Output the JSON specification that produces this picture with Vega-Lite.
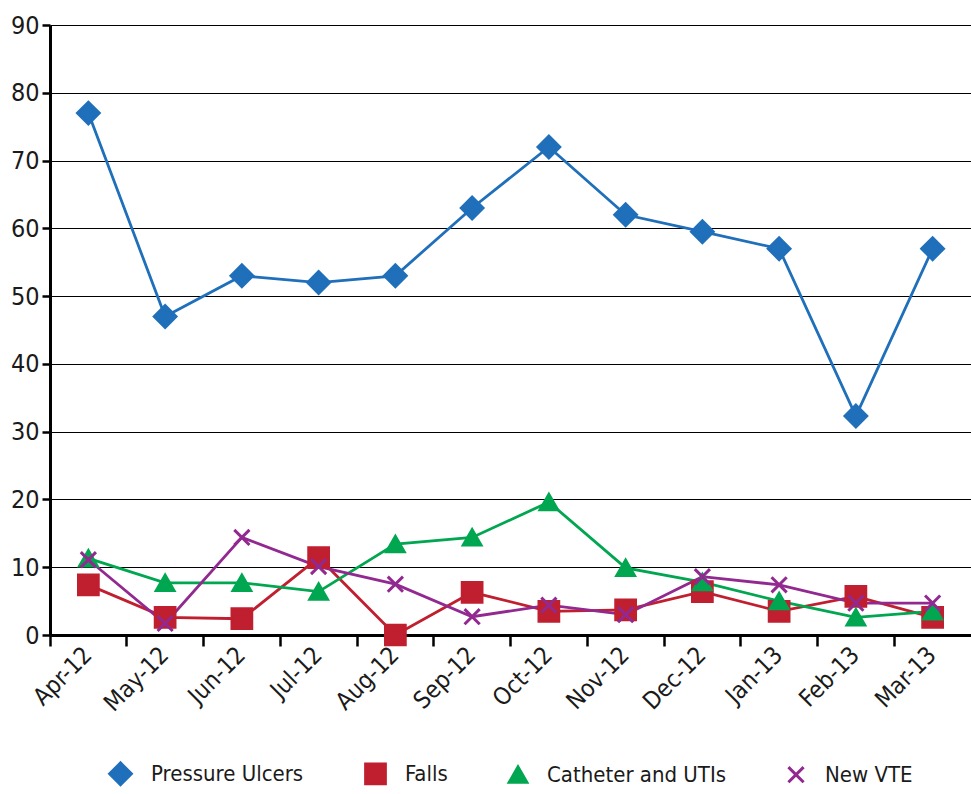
{
  "$schema": "https://vega.github.io/schema/vega-lite/v6.json",
  "width": 971,
  "height": 794,
  "autosize": {"type": "fit", "contains": "padding"},
  "padding": {"left": 10, "top": 13, "right": 0, "bottom": 3},
  "background": "white",
  "config": {
    "font": "DejaVu Sans Condensed, Roboto, sans-serif",
    "view": {"stroke": null},
    "axis": {
      "labelFont": "DejaVu Sans Condensed, Roboto, sans-serif",
      "labelColor": "#1a1a1a",
      "title": null
    },
    "legend": {
      "labelFont": "DejaVu Sans Condensed, Roboto, sans-serif",
      "labelFontSize": 22,
      "labelColor": "#1a1a1a",
      "labelLimit": 0,
      "labelOffset": 18,
      "symbolStrokeWidth": 3,
      "layout": {"bottom": {"anchor": "middle"}}
    }
  },
  "data": {
    "values": [
      {"month": "Apr-12", "series": "Pressure Ulcers", "value": 77},
      {"month": "May-12", "series": "Pressure Ulcers", "value": 47},
      {"month": "Jun-12", "series": "Pressure Ulcers", "value": 53},
      {"month": "Jul-12", "series": "Pressure Ulcers", "value": 52},
      {"month": "Aug-12", "series": "Pressure Ulcers", "value": 53},
      {"month": "Sep-12", "series": "Pressure Ulcers", "value": 63},
      {"month": "Oct-12", "series": "Pressure Ulcers", "value": 72},
      {"month": "Nov-12", "series": "Pressure Ulcers", "value": 62},
      {"month": "Dec-12", "series": "Pressure Ulcers", "value": 59.5},
      {"month": "Jan-13", "series": "Pressure Ulcers", "value": 57},
      {"month": "Feb-13", "series": "Pressure Ulcers", "value": 32.3},
      {"month": "Mar-13", "series": "Pressure Ulcers", "value": 57},

      {"month": "Apr-12", "series": "Falls", "value": 7.4},
      {"month": "May-12", "series": "Falls", "value": 2.6},
      {"month": "Jun-12", "series": "Falls", "value": 2.4},
      {"month": "Jul-12", "series": "Falls", "value": 11.4},
      {"month": "Aug-12", "series": "Falls", "value": 0},
      {"month": "Sep-12", "series": "Falls", "value": 6.3},
      {"month": "Oct-12", "series": "Falls", "value": 3.5},
      {"month": "Nov-12", "series": "Falls", "value": 3.7},
      {"month": "Dec-12", "series": "Falls", "value": 6.4},
      {"month": "Jan-13", "series": "Falls", "value": 3.5},
      {"month": "Feb-13", "series": "Falls", "value": 5.7},
      {"month": "Mar-13", "series": "Falls", "value": 2.6},

      {"month": "Apr-12", "series": "Catheter and UTIs", "value": 11.3},
      {"month": "May-12", "series": "Catheter and UTIs", "value": 7.7},
      {"month": "Jun-12", "series": "Catheter and UTIs", "value": 7.7},
      {"month": "Jul-12", "series": "Catheter and UTIs", "value": 6.4},
      {"month": "Aug-12", "series": "Catheter and UTIs", "value": 13.4},
      {"month": "Sep-12", "series": "Catheter and UTIs", "value": 14.4},
      {"month": "Oct-12", "series": "Catheter and UTIs", "value": 19.6},
      {"month": "Nov-12", "series": "Catheter and UTIs", "value": 9.9},
      {"month": "Dec-12", "series": "Catheter and UTIs", "value": 7.8},
      {"month": "Jan-13", "series": "Catheter and UTIs", "value": 5.0},
      {"month": "Feb-13", "series": "Catheter and UTIs", "value": 2.6},
      {"month": "Mar-13", "series": "Catheter and UTIs", "value": 3.5},

      {"month": "Apr-12", "series": "New VTE", "value": 11.1},
      {"month": "May-12", "series": "New VTE", "value": 1.7},
      {"month": "Jun-12", "series": "New VTE", "value": 14.4},
      {"month": "Jul-12", "series": "New VTE", "value": 10.1},
      {"month": "Aug-12", "series": "New VTE", "value": 7.5},
      {"month": "Sep-12", "series": "New VTE", "value": 2.7},
      {"month": "Oct-12", "series": "New VTE", "value": 4.4},
      {"month": "Nov-12", "series": "New VTE", "value": 3.0},
      {"month": "Dec-12", "series": "New VTE", "value": 8.6},
      {"month": "Jan-13", "series": "New VTE", "value": 7.4},
      {"month": "Feb-13", "series": "New VTE", "value": 4.7},
      {"month": "Mar-13", "series": "New VTE", "value": 4.7}
    ]
  },
  "encoding": {
    "x": {
      "field": "month",
      "type": "ordinal",
      "sort": null,
      "scale": {"type": "band", "paddingInner": 0, "paddingOuter": 0},
      "axis": null
    },
    "y": {
      "field": "value",
      "type": "quantitative",
      "scale": {"domain": [0, 90], "nice": false}
    }
  },
  "layer": [
    {
      "mark": {"type": "rule", "opacity": 0},
      "encoding": {
        "x": {
          "field": "month",
          "type": "ordinal",
          "sort": null,
          "axis": {
            "orient": "bottom",
            "bandPosition": 0,
            "labels": false,
            "domain": false,
            "grid": false,
            "ticks": true,
            "tickSize": 11,
            "tickWidth": 2.5,
            "tickColor": "black"
          }
        },
        "y": {
          "field": "value",
          "type": "quantitative",
          "axis": {
            "values": [0, 10, 20, 30, 40, 50, 60, 70, 80, 90],
            "grid": true,
            "gridColor": "black",
            "gridWidth": 1,
            "domain": true,
            "domainColor": "black",
            "domainWidth": 3,
            "ticks": true,
            "tickSize": 8,
            "tickWidth": 2.5,
            "tickColor": "black",
            "labelFontSize": 25,
            "labelPadding": 3
          }
        }
      }
    },
    {
      "mark": {"type": "line", "strokeWidth": 2.8},
      "encoding": {
        "x": {
          "field": "month",
          "type": "ordinal",
          "sort": null,
          "axis": {
            "orient": "bottom",
            "labelAngle": -45,
            "labelAlign": "right",
            "labelBaseline": "middle",
            "labelFontSize": 24,
            "labelPadding": 16,
            "ticks": false,
            "domain": true,
            "domainColor": "black",
            "domainWidth": 3,
            "grid": false
          }
        },
        "color": {
          "field": "series",
          "type": "nominal",
          "scale": {
            "domain": ["Pressure Ulcers", "Falls", "Catheter and UTIs", "New VTE"],
            "range": ["#1f6fba", "#c01f2f", "#00a650", "#922990"]
          },
          "legend": {
            "title": null,
            "orient": "bottom",
            "direction": "horizontal",
            "columnPadding": 55,
            "offset": 45
          }
        },
        "detail": {"field": "series"}
      }
    },
    {
      "mark": {"type": "point", "filled": true, "strokeWidth": 3, "opacity": 1},
      "encoding": {
        "color": {
          "field": "series",
          "type": "nominal",
          "scale": {
            "domain": ["Pressure Ulcers", "Falls", "Catheter and UTIs", "New VTE"],
            "range": ["#1f6fba", "#c01f2f", "#00a650", "#922990"]
          },
          "legend": {
            "title": null,
            "orient": "bottom",
            "direction": "horizontal",
            "columnPadding": 55,
            "offset": 45
          }
        },
        "stroke": {
          "field": "series",
          "type": "nominal",
          "scale": {
            "domain": ["Pressure Ulcers", "Falls", "Catheter and UTIs", "New VTE"],
            "range": ["#1f6fba", "#c01f2f", "#00a650", "#922990"]
          },
          "legend": {
            "title": null,
            "orient": "bottom",
            "direction": "horizontal",
            "columnPadding": 55,
            "offset": 45
          }
        },
        "shape": {
          "field": "series",
          "type": "nominal",
          "scale": {
            "domain": ["Pressure Ulcers", "Falls", "Catheter and UTIs", "New VTE"],
            "range": ["diamond", "square", "triangle-up", "M-1,-1L1,1M-1,1L1,-1"]
          },
          "legend": {
            "title": null,
            "orient": "bottom",
            "direction": "horizontal",
            "columnPadding": 55,
            "offset": 45
          }
        },
        "size": {
          "field": "series",
          "type": "nominal",
          "scale": {
            "domain": ["Pressure Ulcers", "Falls", "Catheter and UTIs", "New VTE"],
            "range": [470, 230, 300, 400]
          },
          "legend": {
            "title": null,
            "orient": "bottom",
            "direction": "horizontal",
            "columnPadding": 55,
            "offset": 45
          }
        }
      }
    }
  ],
  "resolve": {"axis": {"x": "independent", "y": "shared"}}
}
